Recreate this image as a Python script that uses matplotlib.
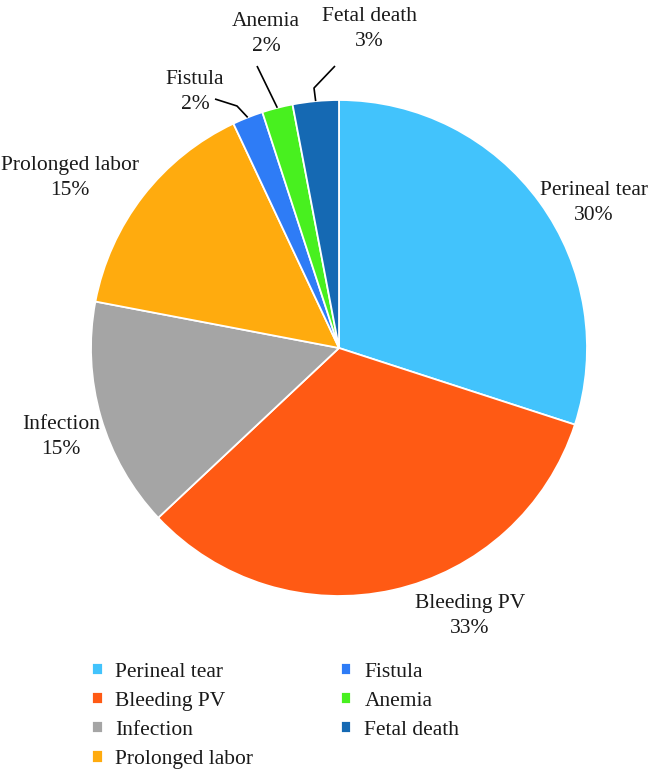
import matplotlib
matplotlib.use("Agg")
import matplotlib.pyplot as plt
import numpy as np

categories = ["Perineal tear", "Bleeding PV", "Infection", "Prolonged labor",
              "Fistula", "Anemia", "Fetal death"]
values = [30, 33, 15, 15, 2, 2, 3]
colors = ["#42C3FC", "#FF5A14", "#A5A5A5", "#FFAB0E", "#2E7CF6", "#48F01F", "#1569B3"]

plt.rcParams['font.family'] = ['Liberation Serif', 'DejaVu Serif']
FS = 15.5

W, H = 664, 781
fig = plt.figure(figsize=(W / 100, H / 100), dpi=100)
ax = fig.add_axes([0, 0, 1, 1])

cx, cy, R = 339, H - 348, 248
wedges, _ = ax.pie(values, colors=colors, startangle=90, counterclock=False,
                   center=(cx, cy), radius=R, frame=True,
                   wedgeprops=dict(edgecolor='white', linewidth=1.3))
ax.set_xlim(0, W)
ax.set_ylim(0, H)
ax.set_aspect('equal')
ax.axis('off')

# label positions (pixel coords from top) and leader lines
label_pos = {
    "Perineal tear": (594, 203),
    "Bleeding PV": (470, 616),
    "Infection": (61, 437),
    "Prolonged labor": (70, 178),
    "Fistula": (195, 92),
    "Anemia": (266, 34),
    "Fetal death": (369, 29),
}
leaders = {
    "Fistula": [(215, 99), (237, 106)],
    "Anemia": [(257, 66)],
    "Fetal death": [(335, 66), (314, 88)],
}

total = sum(values)
for w, cat, v in zip(wedges, categories, values):
    px, py = label_pos[cat]
    ax.text(px, H - py, f"{cat}\n{round(100 * v / total)}%", ha='center', va='center',
            fontsize=FS, color='#1a1a1a', linespacing=1.43)
    if cat in leaders:
        mid = np.deg2rad((w.theta1 + w.theta2) / 2)
        ex, ey = cx + R * np.cos(mid), cy + R * np.sin(mid)
        pts = [(x, H - y) for x, y in leaders[cat]] + [(ex, ey)]
        xs, ys = zip(*pts)
        ax.plot(xs, ys, color='black', lw=1.2, solid_capstyle='butt')

leg = ax.legend(wedges, categories, ncol=2, loc='upper left',
                bbox_to_anchor=(81 / W, 1 - 652 / H), frameon=False,
                fontsize=FS, handlelength=0.5, handleheight=0.5,
                handletextpad=0.6, columnspacing=4.05, labelspacing=0.47,
                borderpad=0)
for t in leg.get_texts():
    t.set_color('#1a1a1a')

fig.savefig("out.png", dpi=100)
